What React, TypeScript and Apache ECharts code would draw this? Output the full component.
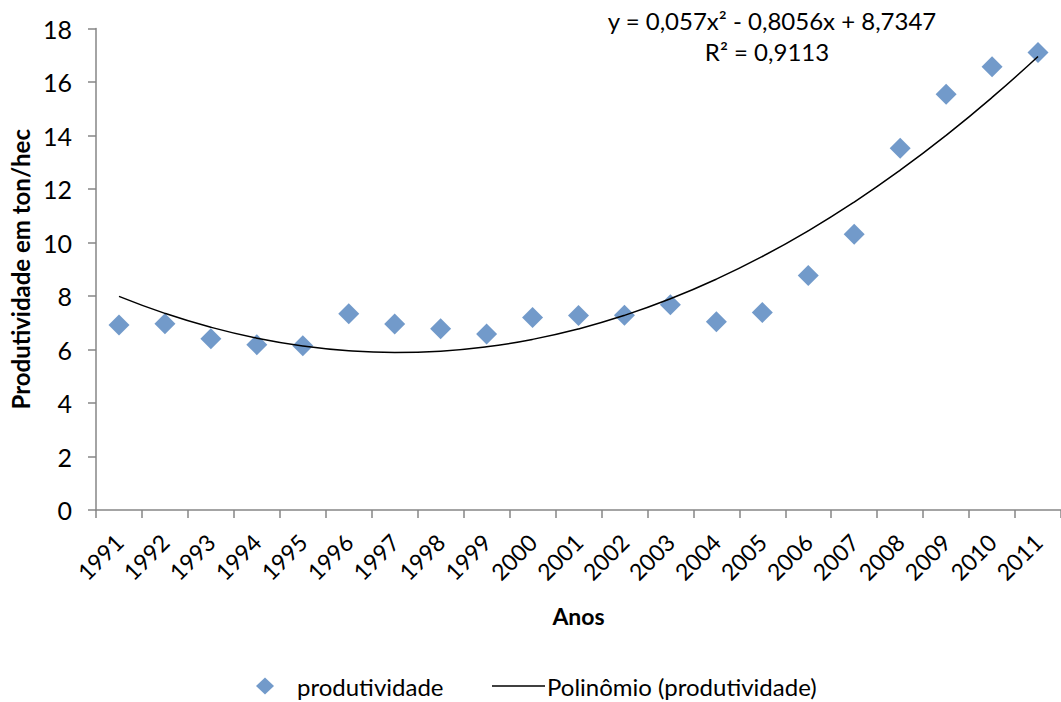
import React, { useEffect, useRef } from "react";
import * as echarts from "echarts";

const years = ["1991","1992","1993","1994","1995","1996","1997","1998","1999","2000","2001","2002","2003","2004","2005","2006","2007","2008","2009","2010","2011"];
const produtividade = [6.92, 6.96, 6.4, 6.18, 6.14, 7.34, 6.95, 6.78, 6.58, 7.2, 7.27, 7.28, 7.67, 7.04, 7.38, 8.77, 10.31, 13.52, 15.54, 16.57, 17.1];
// trendline coefficients shown on the chart: y = a x^2 + b x + c
const trendCoef = [0.057, -0.8056, 8.7347];
const yTicks = { min: 0, max: 18, interval: 2 };
const equationText = "y = 0,057x² - 0,8056x + 8,7347";
const r2Text = "R² = 0,9113";

const FONT = "Lato, 'Open Sans', sans-serif";

export default function App() {
  const ref = useRef<HTMLDivElement>(null);
  useEffect(() => {
    if (!ref.current) return;
    const chart = echarts.init(ref.current, undefined, { renderer: "svg" });
    const trend = years.map((_, i) => {
      const x = i + 1;
      return +(trendCoef[0] * x * x + trendCoef[1] * x + trendCoef[2]).toFixed(4);
    });
    chart.setOption({
      animation: false,
      textStyle: { fontFamily: FONT },
      grid: { left: 96, right: -3, top: 28.5, bottom: 192, containLabel: false },
      xAxis: {
        type: "category",
        data: years,
        boundaryGap: true,
        name: "Anos",
        nameLocation: "middle",
        nameGap: 94,
        nameTextStyle: { fontSize: 23, fontWeight: "bold", color: "#000", fontFamily: FONT },
        axisLine: { lineStyle: { color: "#868686", width: 1.5 } },
        axisTick: { show: true, length: 8, alignWithLabel: false, lineStyle: { color: "#868686", width: 1.5 } },
        axisLabel: { rotate: 45, fontSize: 23, color: "#000", margin: 28, interval: 0, fontFamily: FONT },
        splitLine: { show: false },
      },
      yAxis: {
        type: "value",
        min: yTicks.min,
        max: yTicks.max,
        interval: yTicks.interval,
        name: "Produtividade em ton/hec",
        nameLocation: "middle",
        nameGap: 62,
        nameTextStyle: { fontSize: 24, fontWeight: "bold", color: "#000", fontFamily: FONT },
        axisLine: { show: true, lineStyle: { color: "#868686", width: 1.5 } },
        axisTick: { show: true, length: 8, lineStyle: { color: "#868686", width: 1.5 } },
        axisLabel: { fontSize: 25, color: "#000", margin: 24, fontFamily: FONT },
        splitLine: { show: false },
      },
      legend: [
        {
          data: [{ name: "produtividade", icon: "diamond" }],
          left: 256,
          top: 674,
          padding: 0,
          itemWidth: 18,
          itemHeight: 17,
          textStyle: { fontSize: 24, lineHeight: 24, color: "#000", fontFamily: FONT, padding: [0, 0, 0, 18] },
        },
        {
          data: [{ name: "Polinômio (produtividade)", icon: "rect" }],
          left: 492,
          top: 674,
          padding: 0,
          itemWidth: 53,
          itemHeight: 1.5,
          itemStyle: { color: "#000" },
          textStyle: { fontSize: 24, lineHeight: 24, color: "#000", fontFamily: FONT, padding: [0, 0, 0, -3] },
        },
      ],
      graphic: [
        {
          type: "text",
          x: 772,
          y: 8,
          style: { text: equationText, fontSize: 24, fill: "#000", fontFamily: FONT, align: "center" },
        },
        {
          type: "text",
          x: 767,
          y: 39,
          style: { text: r2Text, fontSize: 24, fill: "#000", fontFamily: FONT, align: "center" },
        },
      ],
      series: [
        {
          name: "produtividade",
          type: "scatter",
          data: produtividade,
          symbol: "diamond",
          symbolSize: 21,
          itemStyle: { color: "#4F81BD" },
          z: 3,
        },
        {
          name: "Polinômio (produtividade)",
          type: "line",
          data: trend,
          smooth: 0.5,
          symbol: "none",
          lineStyle: { color: "#000", width: 1.5 },
          itemStyle: { color: "#000" },
          z: 4,
        },
      ],
    });
    return () => chart.dispose();
  }, []);
  return <div ref={ref} style={{ width: 1061, height: 702, position: "absolute", left: 0, top: 0 }} />;
}
